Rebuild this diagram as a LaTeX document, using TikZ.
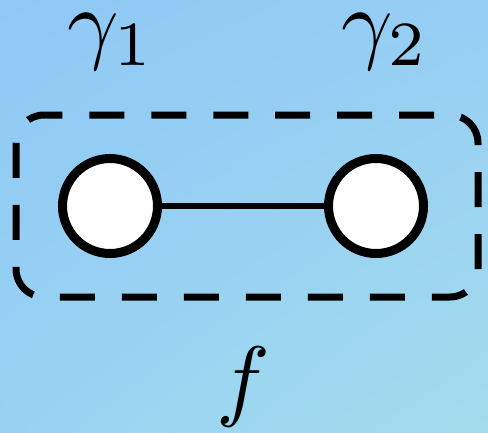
\documentclass[tikz,border=0pt]{standalone}
\usetikzlibrary{shadings}
\definecolor{bgul}{RGB}{143,200,245}
\definecolor{bgur}{RGB}{150,206,244}
\definecolor{bgll}{RGB}{152,210,242}
\definecolor{bglr}{RGB}{163,220,236}
\tikzset{
  vertex/.style={circle, draw=black, fill=white, line width=9pt, minimum size=95pt, inner sep=0pt},
  edgeline/.style={line width=6pt},
  groupbox/.style={draw=black, line width=7pt, rounded corners=28pt, dash pattern=on 35pt off 27pt},
  biglabel/.style={scale=9, inner sep=0pt, anchor=base}
}
\begin{document}
\begin{tikzpicture}[x=1pt, y=-1pt]
  \shade[upper left=bgul, upper right=bgur, lower left=bgll, lower right=bglr] (0,0) rectangle (488,432);
  \useasboundingbox (0,0) rectangle (488,432);
  \draw[groupbox] (247,115) -- (478,115) -- (478,297) -- (16,297) -- (16,115) -- cycle;
  \node[vertex] (g1) at (110,206) {};
  \node[vertex] (g2) at (376,206) {};
  \draw[edgeline] (g1) -- (g2);
  \node[biglabel] (l1) at (111,52) {$\gamma_1$};
  \node[biglabel] (l2) at (385,52) {$\gamma_2$};
  \node[biglabel] (lf) at (243,409) {$f$};
\end{tikzpicture}
\end{document}
